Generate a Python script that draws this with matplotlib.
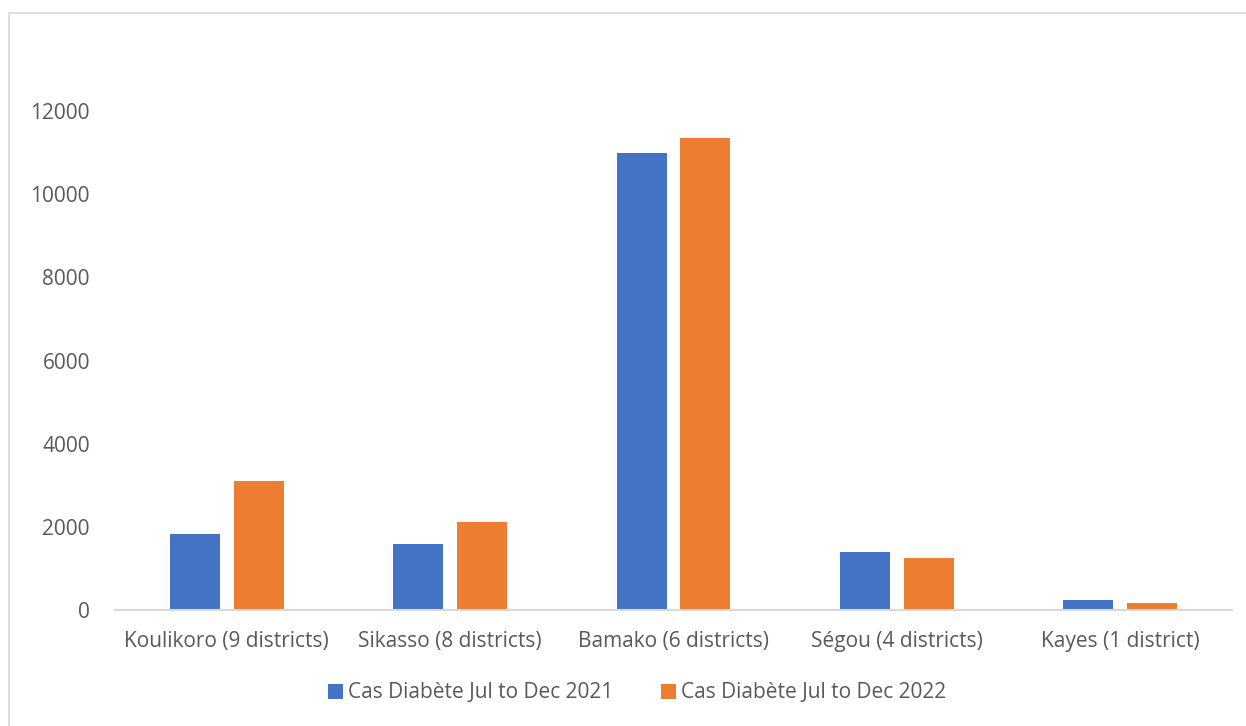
import numpy as np
import matplotlib
matplotlib.use("Agg")
import matplotlib.pyplot as plt
from matplotlib.patches import Rectangle

regions = ["Koulikoro (9 districts)", "Sikasso (8 districts)", "Bamako (6 districts)",
           "Ségou (4 districts)", "Kayes (1 district)"]
cases_2021 = [1820, 1595, 10985, 1395, 240]
cases_2022 = [3110, 2110, 11340, 1250, 168]
series_names = ["Cas Diabète Jul to Dec 2021", "Cas Diabète Jul to Dec 2022"]
yticks = [0, 2000, 4000, 6000, 8000, 10000, 12000]

plt.rcParams['font.family'] = ['Open Sans', 'DejaVu Sans']
text_col = "#595959"
fs = 15

fig = plt.figure(figsize=(12.46, 7.26), dpi=100)
ax = fig.add_axes([115/1246, 1 - 610/726, (1232 - 115)/1246, (610 - 111)/726])

x = np.arange(len(regions))
w = 0.224
off = 0.143
ax.bar(x - off, cases_2021, w, color="#4472C4", label=series_names[0])
ax.bar(x + off, cases_2022, w, color="#ED7D31", label=series_names[1])

ax.set_xlim(-0.5, len(regions) - 0.5)
ax.set_ylim(0, 12000)
ax.set_yticks(yticks)
ax.set_yticklabels([str(v) for v in yticks], fontsize=fs, color=text_col)
ax.set_xticks(x)
ax.set_xticklabels(regions, fontsize=fs, color=text_col)
ax.tick_params(axis="both", length=0)
ax.tick_params(axis="y", pad=18)
ax.tick_params(axis="x", pad=15)
for s in ["top", "right", "left"]:
    ax.spines[s].set_visible(False)
ax.spines["bottom"].set_color("#D9D9D9")
ax.spines["bottom"].set_linewidth(1.5)

leg = fig.legend(loc="center", bbox_to_anchor=(637/1246, 1 - 693/726), ncol=2,
                 frameon=False, fontsize=fs, handlelength=0.7, handleheight=0.7,
                 handletextpad=0.25, columnspacing=2.3)
for t in leg.get_texts():
    t.set_color(text_col)

# chart frame
fig.patches.append(Rectangle((9/1246, -0.01), 1.0, 1 - 13/726 + 0.01, transform=fig.transFigure,
                             fill=False, edgecolor="#D9D9D9", linewidth=1.2))

fig.savefig("out.png", dpi=100)
